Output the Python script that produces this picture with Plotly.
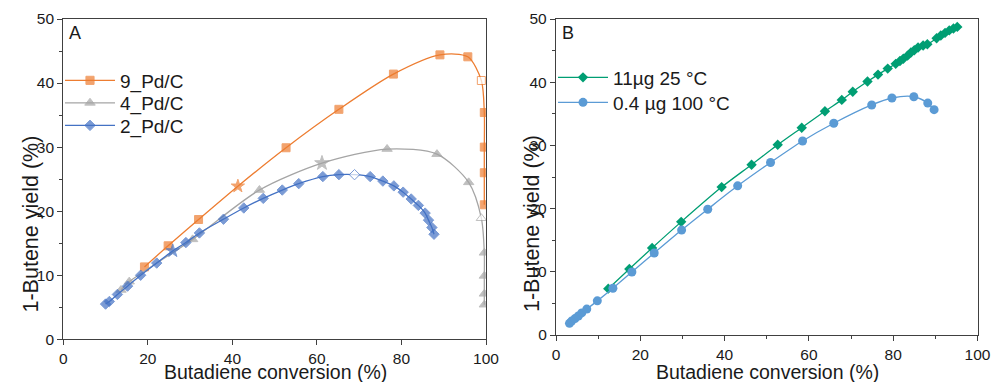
import plotly.graph_objects as go

# ---- Panel A: 1-butene yield vs butadiene conversion for Pd/C catalysts ----
a9_x = [19.2, 24.8, 32.0, 41.3, 52.7, 65.2, 78.1, 89.1, 95.7, 98.9, 99.6, 99.6, 99.6, 99.6]
a9_y = [11.3, 14.6, 18.7, 23.9, 29.9, 35.9, 41.4, 44.4, 44.1, 40.4, 35.4, 30.0, 26.0, 21.0]

a4_x = [13.65, 15.6, 30.6, 46.4, 61.2, 76.6, 88.4, 95.9, 98.9, 99.6, 99.6, 99.6, 99.6]
a4_y = [7.7, 9.0, 15.6, 23.3, 27.5, 29.7, 28.9, 24.5, 18.9, 13.5, 9.9, 7.1, 5.4]

a2_x = [10.0, 10.9, 12.8, 15.2, 18.3, 22.1, 25.9, 29.0, 32.2, 37.9, 42.7, 47.3, 51.8,
        55.7, 61.4, 65.2, 68.9, 72.6, 75.6, 78.2, 80.4, 82.3, 84.0, 85.6, 86.4, 87.2, 87.7]
a2_y = [5.5, 5.9, 7.0, 8.3, 10.0, 11.9, 13.8, 15.1, 16.6, 18.75, 20.5, 22.0, 23.3,
        24.3, 25.4, 25.7, 25.7, 25.4, 24.7, 23.95, 22.97, 21.9, 20.9, 19.7, 18.6, 17.45, 16.4]

# ---- Panel B: loading / temperature comparison ----
b11_x = [12.4, 17.4, 22.8, 29.7, 39.3, 46.4, 52.6, 58.3, 63.8, 67.8, 70.4, 73.9, 76.4,
         78.7, 80.6, 81.6, 82.4, 83.4, 84.2, 85.0, 85.9, 87.1, 88.1,
         90.3, 91.3, 92.3, 93.3, 94.3, 95.2]
b11_y = [7.33, 10.44, 13.77, 17.9, 23.4, 26.95, 30.1, 32.8, 35.4, 37.2, 38.5, 40.1, 41.2,
         42.15, 42.9, 43.35, 43.7, 44.2, 44.7, 45.05, 45.5, 45.8, 46.0,
         46.95, 47.4, 47.8, 48.2, 48.5, 48.75]

b04_x = [3.2, 3.7, 4.5, 5.3, 6.1, 7.3, 9.8, 13.5, 18.0, 23.3, 29.8, 36.0, 43.1, 50.9,
         58.5, 65.9, 74.9, 79.7, 84.9, 88.2, 89.7]
b04_y = [1.85, 2.2, 2.6, 3.0, 3.5, 4.1, 5.4, 7.4, 9.97, 12.97, 16.6, 19.9, 23.6, 27.3,
         30.7, 33.5, 36.4, 37.5, 37.7, 36.7, 35.65]

x_ticks = [0, 20, 40, 60, 80, 100]
y_ticks = [0, 10, 20, 30, 40, 50]

ORANGE = "#ED7D31"
GREY = "#A5A5A5"
BLUE = "#4472C4"
GREEN = "#009E73"
LBLUE = "#5B9BD5"
AXIS = "#404040"
FONT = "Liberation Sans, Arial, sans-serif"


def marker_style(n, base, color, star_idx, open_idx, size):
    symbols = [base] * n
    symbols[star_idx] = "star"
    fills = [color] * n
    fills[open_idx] = "white"
    sizes = [size] * n
    sizes[star_idx] = size + 2
    return dict(symbol=symbols, color=fills, size=sizes,
                line=dict(color=color, width=1))


fig = go.Figure()

fig.add_trace(go.Scatter(
    x=a9_x, y=a9_y, name="9_Pd/C", mode="lines+markers",
    line=dict(color=ORANGE, width=1.3, shape="spline", smoothing=0.8),
    marker=marker_style(len(a9_x), "square", ORANGE, 3, 9, 8),
    xaxis="x", yaxis="y", legend="legend"))
fig.add_trace(go.Scatter(
    x=a4_x, y=a4_y, name="4_Pd/C", mode="lines+markers",
    line=dict(color=GREY, width=1.3, shape="spline", smoothing=0.8),
    marker=marker_style(len(a4_x), "triangle-up", GREY, 4, 8, 9),
    xaxis="x", yaxis="y", legend="legend2"))
fig.add_trace(go.Scatter(
    x=a2_x, y=a2_y, name="2_Pd/C", mode="lines+markers",
    line=dict(color=BLUE, width=1.3, shape="spline", smoothing=0.8),
    marker=marker_style(len(a2_x), "diamond", BLUE, 6, 16, 8),
    xaxis="x", yaxis="y", legend="legend3"))

fig.add_trace(go.Scatter(
    x=b11_x, y=b11_y, name="11µg 25 °C", mode="lines+markers",
    line=dict(color=GREEN, width=1.3, shape="spline", smoothing=0.8),
    marker=dict(symbol="diamond", color=GREEN, size=8),
    xaxis="x2", yaxis="y2", legend="legend4"))
fig.add_trace(go.Scatter(
    x=b04_x, y=b04_y, name="0.4 µg 100 °C", mode="lines+markers",
    line=dict(color=LBLUE, width=1.3, shape="spline", smoothing=0.8),
    marker=dict(symbol="circle", color=LBLUE, size=9),
    xaxis="x2", yaxis="y2", legend="legend5"))

W, H = 993, 382


def px_x(p):
    return p / W


def px_y(p):
    return 1 - p / H


tick_font = dict(family=FONT, size=15.5, color="#1a1a1a")
axis_common = dict(showline=True, linecolor=AXIS, linewidth=1.3, mirror=True,
                   showgrid=False, zeroline=False, ticks="outside", ticklen=5,
                   tickcolor=AXIS, tickfont=tick_font, automargin=False)

fig.update_layout(
    width=W, height=H,
    margin=dict(l=0, r=0, t=0, b=0),
    paper_bgcolor="white", plot_bgcolor="white",
    font=dict(family=FONT, color="#1a1a1a"),
    showlegend=True,
    xaxis=dict(domain=[px_x(63.3), px_x(486)], range=[0, 100], tickvals=x_ticks,
               anchor="y", **axis_common),
    yaxis=dict(domain=[px_y(339.3), px_y(19)], range=[0, 50], tickvals=y_ticks,
               anchor="x", minor=dict(dtick=5, ticks="outside", ticklen=3, tickcolor=AXIS),
               **axis_common),
    xaxis2=dict(domain=[px_x(556), px_x(977.5)], range=[0, 100], tickvals=x_ticks,
                anchor="y2", minor=dict(dtick=10, ticks="outside", ticklen=3, tickcolor=AXIS),
                **axis_common),
    yaxis2=dict(domain=[px_y(335), px_y(19)], range=[0, 50], tickvals=y_ticks,
                anchor="x2", minor=dict(dtick=5, ticks="outside", ticklen=3, tickcolor=AXIS),
                **axis_common),
)

legend_common = dict(xanchor="left", yanchor="middle", bgcolor="rgba(0,0,0,0)",
                     borderwidth=0, itemwidth=50, visible=True,
                     font=dict(family=FONT, size=19, color="#1a1a1a"),
                     itemclick=False, itemdoubleclick=False)
fig.update_layout(
    legend=dict(x=px_x(60), y=px_y(80.5), **legend_common),
    legend2=dict(x=px_x(60), y=px_y(103), **legend_common),
    legend3=dict(x=px_x(60), y=px_y(125.5), **legend_common),
    legend4=dict(x=px_x(553), y=px_y(77.5), **legend_common),
    legend5=dict(x=px_x(553), y=px_y(102.5), **legend_common),
)

xtitle_font = dict(family=FONT, size=19.5, color="#1a1a1a")
ytitle_font = dict(family=FONT, size=21.5, color="#1a1a1a")
annotations = [
    dict(text="Butadiene conversion (%)", x=px_x(275), y=px_y(371.5), font=xtitle_font),
    dict(text="Butadiene conversion (%)", x=px_x(767), y=px_y(371.5), font=xtitle_font),
    dict(text="1-Butene yield (%)", x=px_x(30.5), y=px_y(224), textangle=-90, font=ytitle_font),
    dict(text="1-Butene yield (%)", x=px_x(532), y=px_y(224), textangle=-90, font=ytitle_font),
    dict(text="A", x=px_x(74.5), y=px_y(33), font=dict(family=FONT, size=18, color="#1a1a1a")),
    dict(text="B", x=px_x(567.5), y=px_y(33), font=dict(family=FONT, size=18, color="#1a1a1a")),
]
for a in annotations:
    a.update(xref="paper", yref="paper", showarrow=False, xanchor="center", yanchor="middle")
fig.update_layout(annotations=annotations)

fig.write_html("out.html")
